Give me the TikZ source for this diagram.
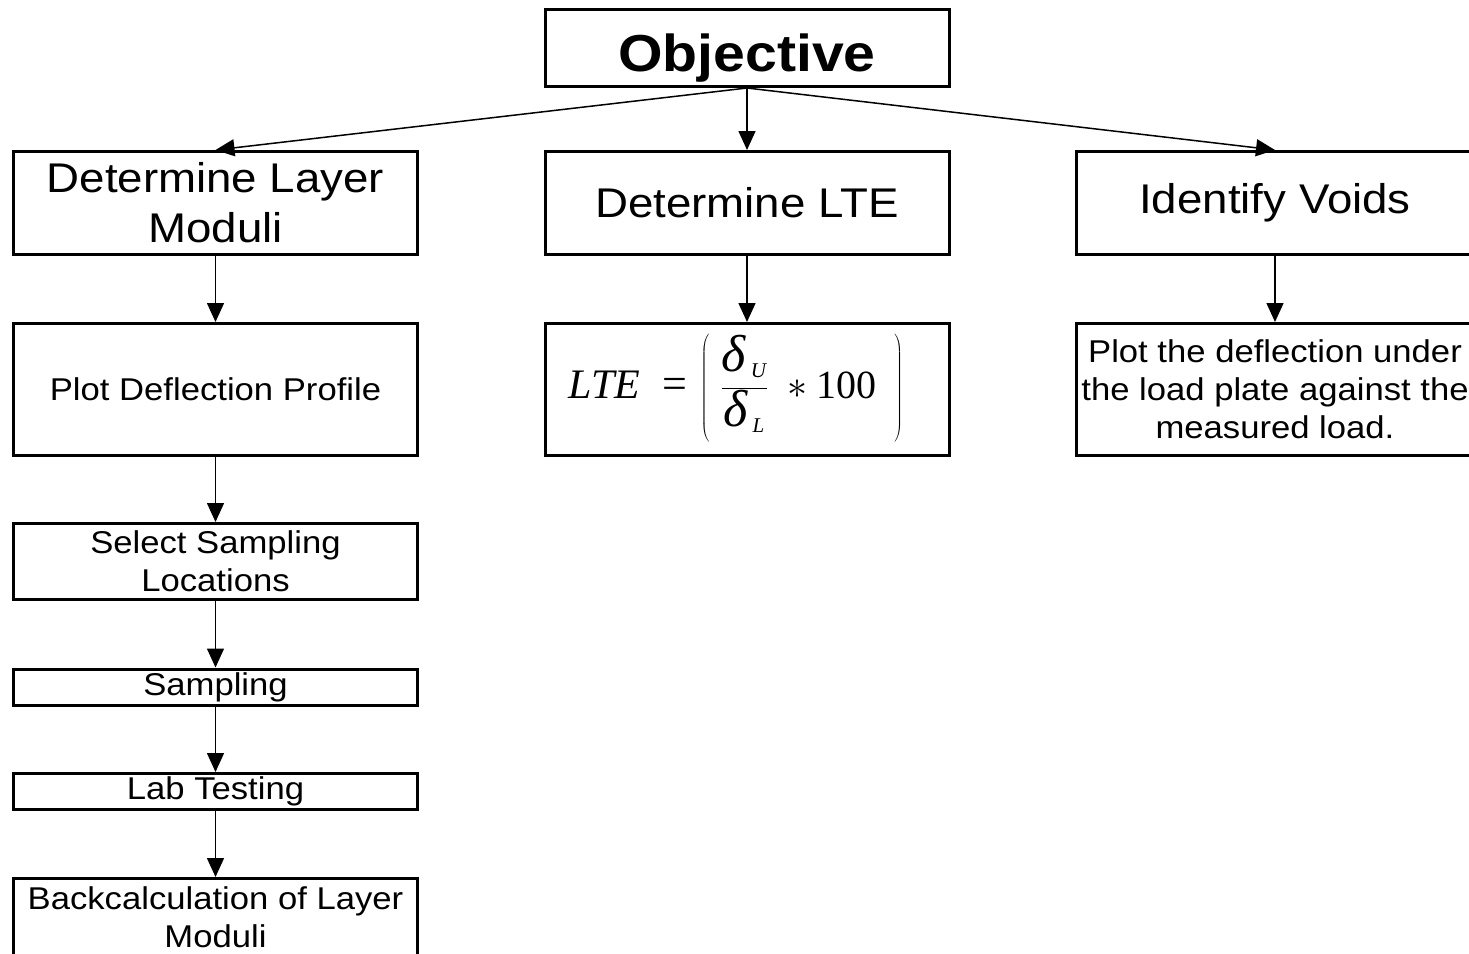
\RequirePackage{fix-cm}
\documentclass[tikz,border=0pt]{standalone}
\usepackage[no-math]{fontspec}
\setmainfont{Liberation Sans}[FakeStretch=1.1]
\newfontfamily\eqfont{Liberation Serif}
\usepackage{tikz}
\usetikzlibrary{arrows.meta, positioning}
\newcommand{\lblbig}{\fontsize{41.5}{50}\selectfont}
\newcommand{\lblsmall}{\fontsize{31.5}{38}\selectfont}
\newcommand{\eqdelta}[1]{\mbox{\fontsize{52}{52}\selectfont\eqfont\itshape δ\kern5pt}_{\mbox{\fontsize{21}{21}\selectfont\eqfont\itshape #1}}}

\begin{document}
\begin{tikzpicture}[x=1pt,y=-1pt,
  box/.style={draw,line width=3pt,minimum width=404pt,align=center,inner sep=0pt},
  arr/.style={line width=1.5pt,-{Triangle[length=19pt,width=17pt]}}]
\clip (0,0) rectangle (1469,953);
% top
\node[box,minimum height=77pt,text height=46pt,text depth=0pt] (obj) at (747,48) {\fontsize{52}{52}\selectfont\bfseries Objective};
% first level
\node[box,minimum height=103pt,font=\lblbig] (dlm) at (215.5,203) {Determine Layer\\Moduli};
\node[box,minimum height=103pt,font=\lblbig] (lte) at (747,203) {Determine LTE};
\node[box,minimum width=397pt,minimum height=103pt,font=\lblbig] (voids) at (1275,203) {Identify Voids};
% second level
\node[box,minimum height=132pt,font=\lblsmall] (pdp) at (215.5,389.5) {Plot Deflection Profile};
\node[box,minimum height=132pt] (ltef) at (747,389.5) {\fontsize{40}{40}\selectfont
  $\displaystyle\mbox{\fontsize{42}{42}\selectfont\eqfont\itshape LTE}\;\;\mbox{\fontsize{44}{44}\selectfont\eqfont =}\,\left(\vrule height 46pt depth 46pt width 0pt\;\frac{\eqdelta{U}}{\eqdelta{L}}\;\ast\mbox{\eqfont 100}\;\,\right)$\kern22pt};
\node[box,minimum width=397pt,minimum height=132pt,font=\lblsmall] (plotv) at (1275,389.5) {Plot the deflection under\\the load plate against the\\measured load.};
% left column
\node[box,minimum height=76pt,font=\lblsmall] (ssl) at (215.5,561.5) {Select Sampling\\Locations};
\node[box,minimum height=36pt,font=\lblsmall] (samp) at (215.5,687) {Sampling};
\node[box,minimum height=36pt,font=\lblsmall] (lab) at (215.5,791.5) {Lab Testing};
\node[box,minimum height=77pt,font=\lblsmall] (back) at (215.5,917) {Backcalculation of Layer\\Moduli};
% arrows
\draw[arr] (obj.south) -- (dlm.north);
\draw[arr] (obj.south) -- (lte.north);
\draw[arr] (obj.south) -- (voids.north);
\draw[arr] (dlm) -- (pdp);
\draw[arr] (lte) -- (ltef);
\draw[arr] (voids) -- (plotv);
\draw[arr] (pdp) -- (ssl);
\draw[arr] (ssl) -- (samp);
\draw[arr] (samp) -- (lab);
\draw[arr] (lab) -- (back);
\end{tikzpicture}
\end{document}
